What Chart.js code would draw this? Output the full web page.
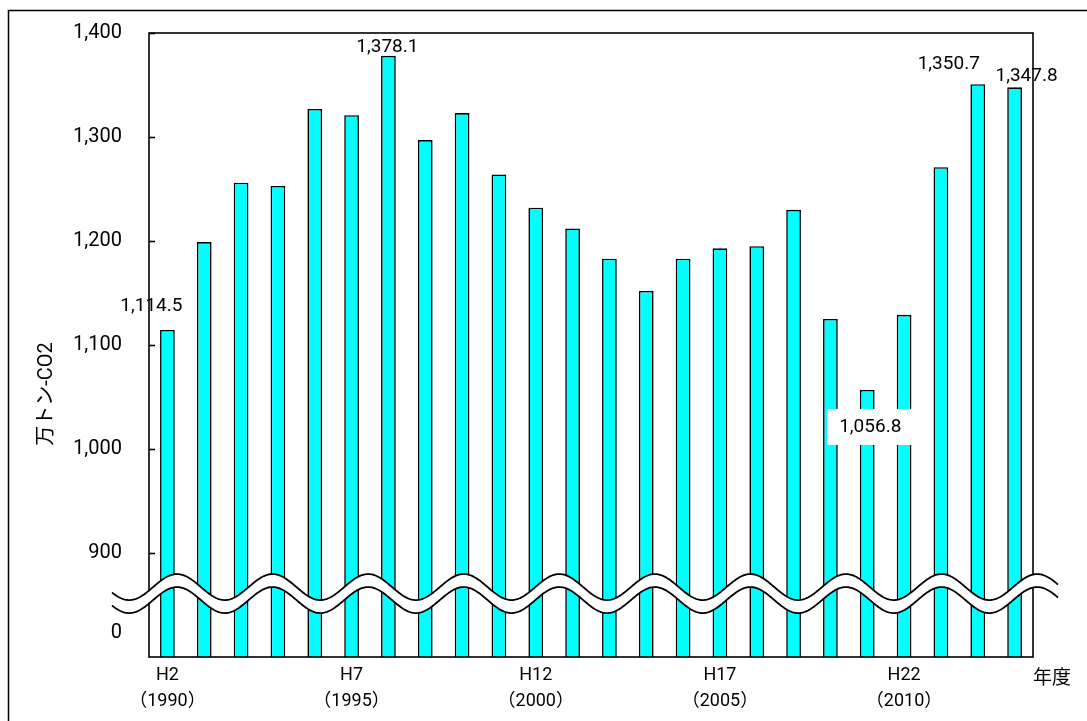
<!DOCTYPE html>
<html><head><meta charset="utf-8">
<script src="https://cdn.jsdelivr.net/npm/chart.js@4/dist/chart.umd.min.js"></script>
<style>html,body{margin:0;padding:0;background:#fff;overflow:hidden}</style>
</head><body>
<canvas id="c" width="1087" height="721"></canvas>
<script>
// ---- data ----
const categories = ['H2','H3','H4','H5','H6','H7','H8','H9','H10','H11','H12','H13','H14','H15','H16','H17','H18','H19','H20','H21','H22','H23','H24','H25'];
const westernYears = [1990,1991,1992,1993,1994,1995,1996,1997,1998,1999,2000,2001,2002,2003,2004,2005,2006,2007,2008,2009,2010,2011,2012,2013];
const labeledCategories = ['H2','H7','H12','H17','H22'];
const emissions = [1114.5,1199,1256,1253,1327,1321,1378.1,1297,1323,1264,1232,1212,1183,1152,1183,1193,1195,1230,1125,1056.8,1129,1271,1350.7,1347.8];
const yTickValues = [900,1000,1100,1200,1300,1400];
const breakTickLabel = '0';
const annotatedCategories = ['H2','H8','H21','H24','H25'];
const yAxisTitle = '万トン-CO2';
const xAxisTitle = '年度';

// ---- styling / layout (not data) ----
const FONT = 'Roboto, "Noto Sans CJK JP", sans-serif';
const Y_MIN = 800, Y_MAX = 1400;
const BREAK_TICK_POS = 823;          // scale position where the "0" label sits
const BREAK = {center: 861, gap: 13, amp: 13, periods: 9.25, phase: 28, left: 37, right: 25};
const labelOffsets = { // dx, dy from bar top centre; box = white background
  'H2':  {dx:-16, dy:-24},
  'H8':  {dx:-1,  dy:-9},
  'H21': {dx:3,   dy:37, box:true},
  'H24': {dx:-29, dy:-20},
  'H25': {dx:12,  dy:-11}
};
const fmt = v => v.toLocaleString('en-US', {minimumFractionDigits: (v % 1 ? 1 : 0)});

const decor = {
  id: 'decor',
  afterDatasetsDraw(chart) {
    const ctx = chart.ctx, ca = chart.chartArea, ys = chart.scales.y, xs = chart.scales.x;
    ctx.save();
    // plot frame + inner tick marks
    ctx.strokeStyle = '#000'; ctx.lineWidth = 1.6;
    ctx.strokeRect(ca.left, ca.top, ca.right - ca.left, ca.bottom - ca.top);
    yTickValues.forEach(v => {
      const y = Math.round(ys.getPixelForValue(v)) + 0.5;
      ctx.beginPath(); ctx.moveTo(ca.left, y); ctx.lineTo(ca.left + 6, y); ctx.stroke();
    });
    // wavy axis break
    const mid = ys.getPixelForValue(BREAK.center);
    const P = (ca.right - ca.left) / BREAK.periods;
    const c0 = ca.left + BREAK.phase;
    const x0 = ca.left - BREAK.left, x1 = ca.right + BREAK.right;
    const yAt = (x, off) => mid + off - BREAK.amp * Math.cos(2 * Math.PI * (x - c0) / P);
    const h = BREAK.gap / 2;
    ctx.beginPath();
    for (let x = x0; x <= x1; x += 1) ctx.lineTo(x, yAt(x, -h));
    for (let x = x1; x >= x0; x -= 1) ctx.lineTo(x, yAt(x, h));
    ctx.closePath(); ctx.fillStyle = '#fff'; ctx.fill();
    ctx.lineWidth = 1.8; ctx.strokeStyle = '#000';
    [-h, h].forEach(off => {
      ctx.beginPath();
      for (let x = x0; x <= x1; x += 1) ctx.lineTo(x, yAt(x, off));
      ctx.stroke();
    });
    // value annotations
    ctx.font = '19px ' + FONT; ctx.textAlign = 'center'; ctx.textBaseline = 'middle';
    annotatedCategories.forEach(cat => {
      const i = categories.indexOf(cat);
      const o = labelOffsets[cat];
      const x = xs.getPixelForValue(i) + o.dx;
      const y = ys.getPixelForValue(emissions[i]) + o.dy;
      const t = fmt(emissions[i]);
      if (o.box) {
        const w = ctx.measureText(t).width + 24;
        ctx.fillStyle = '#fff'; ctx.fillRect(x - w / 2, y - 18, w, 36);
      }
      ctx.fillStyle = '#000'; ctx.fillText(t, x, y);
    });
    // axis titles
    ctx.font = '20px ' + FONT;
    ctx.save();
    ctx.translate(47, (ca.top + ca.bottom) / 2 + 49);
    ctx.rotate(-Math.PI / 2);
    ctx.fillText(yAxisTitle, 0, 0);
    ctx.restore();
    ctx.font = '19px ' + FONT;
    ctx.fillText(xAxisTitle, ca.right + 19, ca.bottom + 22);
    // outer frame
    ctx.lineWidth = 1.5;
    ctx.beginPath(); ctx.moveTo(8.5, chart.height + 2); ctx.lineTo(8.5, 10.5); ctx.lineTo(chart.width + 2, 10.5); ctx.stroke();
    ctx.restore();
  }
};

new Chart(document.getElementById('c'), {
  type: 'bar',
  data: {
    labels: categories,
    datasets: [{
      data: emissions,
      backgroundColor: '#00FFFF',
      borderColor: '#000',
      borderWidth: 1.6,
      barPercentage: 0.4,
      categoryPercentage: 1.0
    }]
  },
  options: {
    responsive: false,
    animation: false,
    devicePixelRatio: 1,
    layout: {padding: {left: 0, top: 33, right: 54, bottom: 0}},
    plugins: {legend: {display: false}, tooltip: {enabled: false}, title: {display: false}},
    scales: {
      x: {
        grid: {display: false, drawTicks: false},
        border: {display: false},
        ticks: {
          autoSkip: false, maxRotation: 0, minRotation: 0, padding: 5, color: '#000',
          font: {family: FONT, size: 18, lineHeight: 1.45},
          callback: (v, i) => labeledCategories.includes(categories[i]) ? [categories[i], '（' + westernYears[i] + '）'] : ''
        },
        afterFit: s => { s.height = 64; s.paddingTop = 0; s.paddingBottom = 0; }
      },
      y: {
        min: Y_MIN, max: Y_MAX,
        grid: {display: false, drawTicks: false},
        border: {display: false},
        ticks: {
          padding: 27, color: '#000', font: {family: FONT, size: 20},
          callback: v => v === BREAK_TICK_POS ? breakTickLabel : fmt(v)
        },
        afterBuildTicks: s => { s.ticks = [BREAK_TICK_POS, ...yTickValues].map(v => ({value: v})); },
        afterFit: s => { s.width = 149; s.paddingTop = 0; s.paddingBottom = 0; }
      }
    }
  },
  plugins: [decor]
});
</script>
</body></html>
